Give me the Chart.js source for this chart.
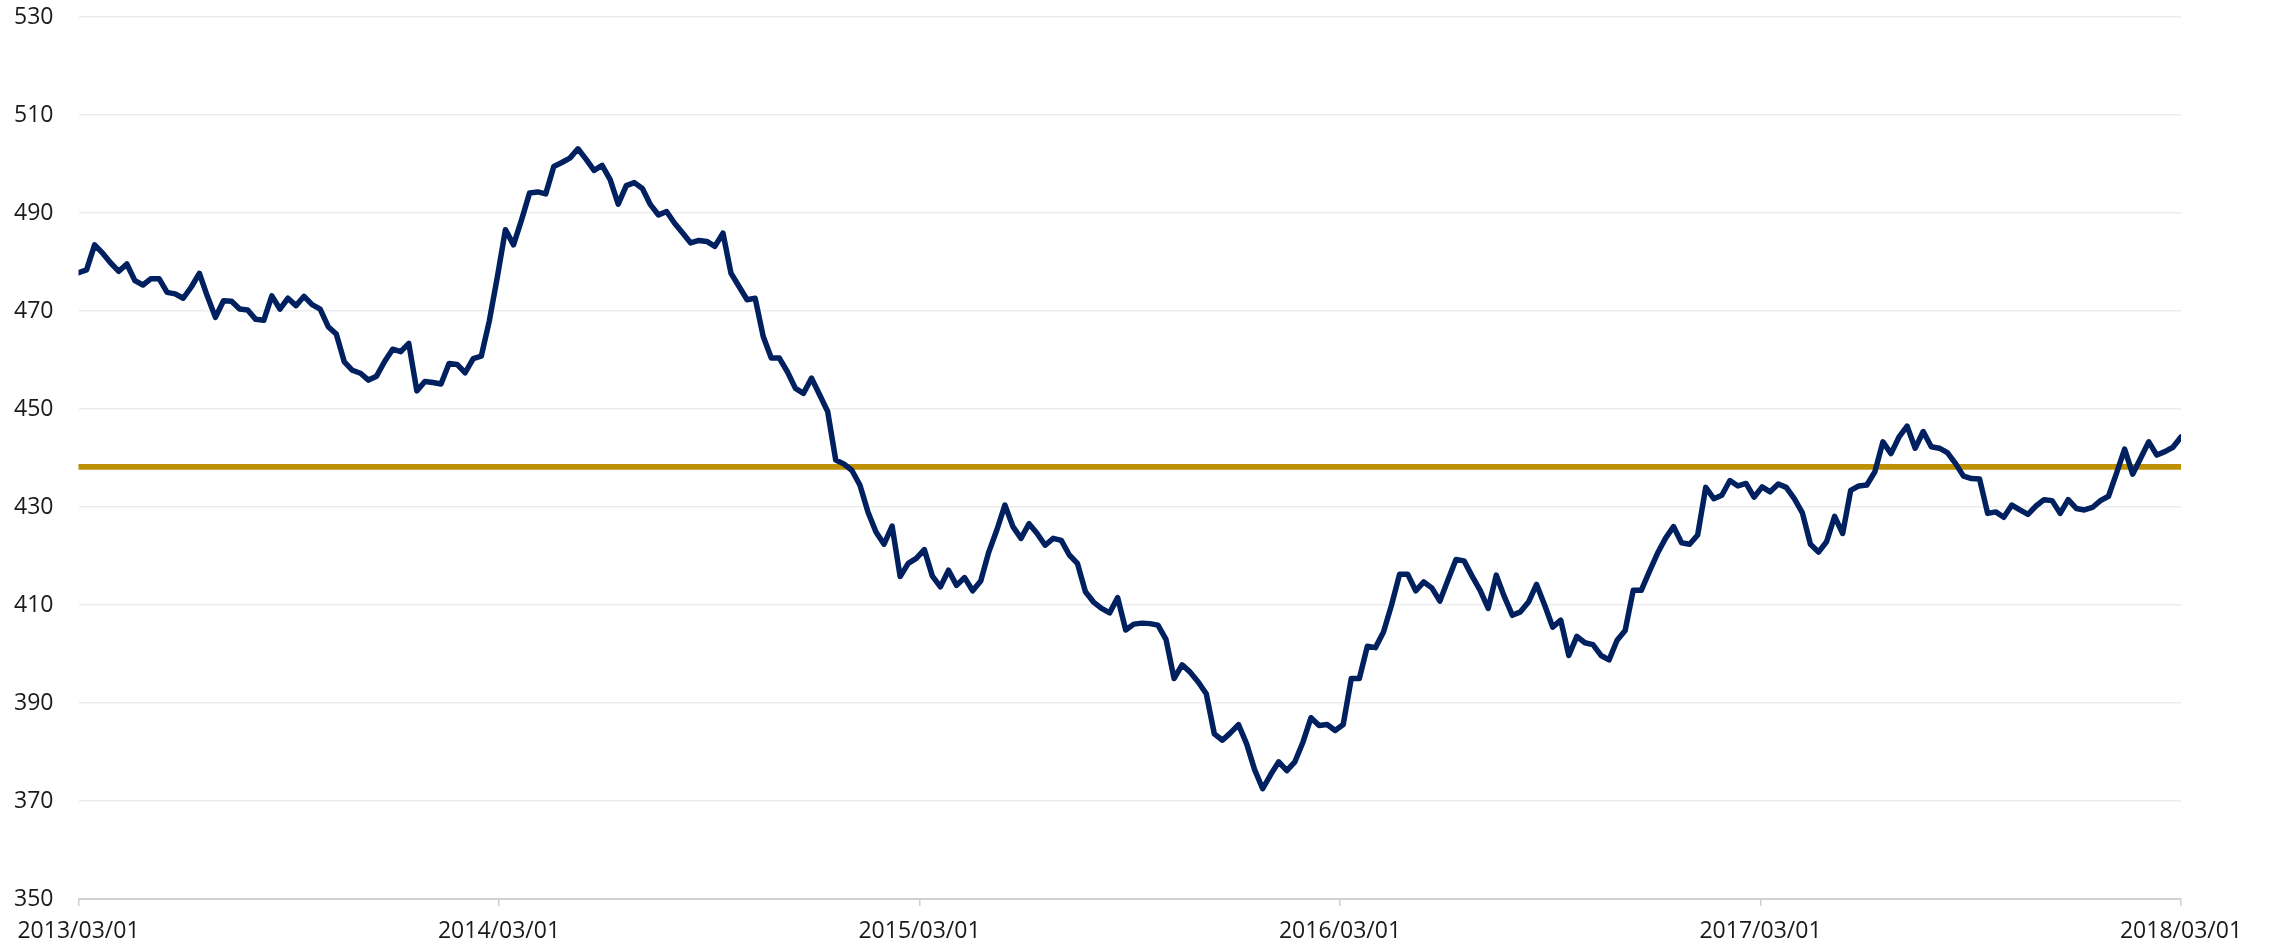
<!DOCTYPE html>
<html>
<head>
<meta charset="utf-8">
<script src="https://cdn.jsdelivr.net/npm/chart.js@4.4.1/dist/chart.umd.min.js"></script>
<style>
  html, body { margin: 0; padding: 0; background: #ffffff; }
  canvas { display: block; }
</style>
</head>
<body>
<canvas id="indexChart" width="2274" height="949"></canvas>
<script>
var tickLabels = ['2013/03/01', '2014/03/01', '2015/03/01', '2016/03/01', '2017/03/01', '2018/03/01'];

// weekly closing level, 2013/03/01 - 2018/03/01
var weeklyValues = [
  477.8, 478.4, 483.5, 481.8, 479.8, 478.1, 479.6, 476.2, 475.3, 476.6,
  476.6, 473.8, 473.5, 472.6, 474.9, 477.7, 473.0, 468.7, 472.1, 472.0,
  470.4, 470.2, 468.3, 468.1, 473.1, 470.4, 472.6, 471.1, 473.0, 471.3,
  470.4, 466.8, 465.3, 459.6, 457.9, 457.3, 455.9, 456.7, 459.7, 462.2,
  461.7, 463.4, 453.7, 455.6, 455.4, 455.1, 459.3, 459.1, 457.4, 460.3,
  460.8, 468.0, 477.0, 486.6, 483.5, 488.6, 494.1, 494.3, 493.9, 499.5,
  500.3, 501.2, 503.1, 501.0, 498.7, 499.7, 496.8, 491.8, 495.6, 496.2,
  495.0, 491.7, 489.6, 490.3, 487.9, 485.9, 483.9, 484.4, 484.2, 483.2,
  485.9, 477.7, 475.0, 472.3, 472.6, 464.8, 460.4, 460.4, 457.6, 454.2,
  453.2, 456.3, 452.9, 449.5, 439.6, 438.8, 437.5, 434.5, 429.0, 424.9,
  422.4, 426.1, 415.8, 418.5, 419.5, 421.3, 415.9, 413.7, 417.1, 414.0,
  415.6, 412.9, 414.9, 420.8, 425.3, 430.4, 426.0, 423.6, 426.6, 424.6,
  422.2, 423.6, 423.2, 420.2, 418.5, 412.7, 410.6, 409.3, 408.4, 411.5,
  404.9, 406.1, 406.3, 406.2, 405.9, 403.0, 395.0, 397.8, 396.3, 394.3,
  391.9, 383.7, 382.4, 383.9, 385.6, 381.7, 376.4, 372.5, 375.4, 378.0,
  376.2, 378.0, 382.0, 387.0, 385.4, 385.6, 384.4, 385.6, 395.0, 395.0,
  401.6, 401.3, 404.5, 410.0, 416.3, 416.3, 412.9, 414.7, 413.5, 410.8,
  415.1, 419.3, 419.0, 415.9, 413.0, 409.3, 416.1, 411.7, 407.9, 408.6,
  410.6, 414.2, 410.0, 405.5, 406.9, 399.7, 403.6, 402.3, 401.9, 399.7,
  398.8, 402.8, 404.8, 413.0, 413.0, 416.8, 420.5, 423.6, 426.0, 422.7,
  422.4, 424.3, 434.0, 431.7, 432.4, 435.4, 434.3, 434.8, 432.0, 434.1,
  433.1, 434.7, 434.0, 431.7, 428.8, 422.4, 420.8, 422.9, 428.1, 424.6,
  433.4, 434.3, 434.5, 437.2, 443.3, 440.9, 444.3, 446.5, 442.0, 445.4,
  442.3, 442.0, 441.1, 438.9, 436.3, 435.8, 435.7, 428.7, 429.0, 427.9,
  430.4, 429.4, 428.5, 430.2, 431.5, 431.3, 428.7, 431.5, 429.7, 429.4,
  429.9, 431.3, 432.2, 436.9, 441.8, 436.7, 440.0, 443.3, 440.6, 441.3,
  442.2, 444.3
];

var averageLevel = 438.2;

var yMin = 350;
var yMax = 530;
var yStep = 20;

var lastIndex = weeklyValues.length - 1;

var seriesPoints = weeklyValues.map(function (v, i) { return { x: i, y: v }; });
var averagePoints = [{ x: 0, y: averageLevel }, { x: lastIndex, y: averageLevel }];

Chart.defaults.font.family = '"Open Sans", "Liberation Sans", sans-serif';
Chart.defaults.font.size = 23;
Chart.defaults.color = '#1a1a1a';

var ctx = document.getElementById('indexChart').getContext('2d');
var chart = new Chart(ctx, {
    type: 'line',
    data: {
        datasets: [{
            label: 'Index',
            data: seriesPoints,
            borderColor: '#002060',
            borderWidth: 5.5,
            borderJoinStyle: 'round',
            borderCapStyle: 'round',
            pointRadius: 0,
            tension: 0,
            fill: false
        }, {
            label: 'Average',
            data: averagePoints,
            borderColor: '#bf9000',
            borderWidth: 5.8,
            borderCapStyle: 'round',
            pointRadius: 0,
            fill: false
        }]
    },
    options: {
        responsive: false,
        animation: false,
        devicePixelRatio: 1,
        layout: {
            padding: { left: 14, right: 93, top: 17, bottom: 3 }
        },
        plugins: {
            legend: { display: false },
            tooltip: { enabled: false }
        },
        scales: {
            x: {
                type: 'linear',
                min: 0,
                max: lastIndex,
                afterBuildTicks: function (axis) {
                    axis.ticks = tickLabels.map(function (_, k) {
                        return { value: k * lastIndex / (tickLabels.length - 1) };
                    });
                },
                afterFit: function (axis) { axis.height = 47; },
                ticks: {
                    autoSkip: false,
                    maxRotation: 0,
                    padding: 12,
                    callback: function (value, index) { return tickLabels[index]; }
                },
                grid: {
                    drawOnChartArea: false,
                    tickLength: 7,
                    color: '#d0d0d0',
                    lineWidth: 1.5
                },
                border: { color: '#d0d0d0', width: 2 }
            },
            y: {
                min: yMin,
                max: yMax,
                ticks: {
                    stepSize: yStep,
                    crossAlign: 'far',
                    padding: 0
                },
                afterFit: function (axis) { axis.width = 64.5; },
                grid: {
                    color: '#ededed',
                    lineWidth: 1.5,
                    drawTicks: false
                },
                border: { display: false }
            }
        }
    }
});
</script>
</body>
</html>
